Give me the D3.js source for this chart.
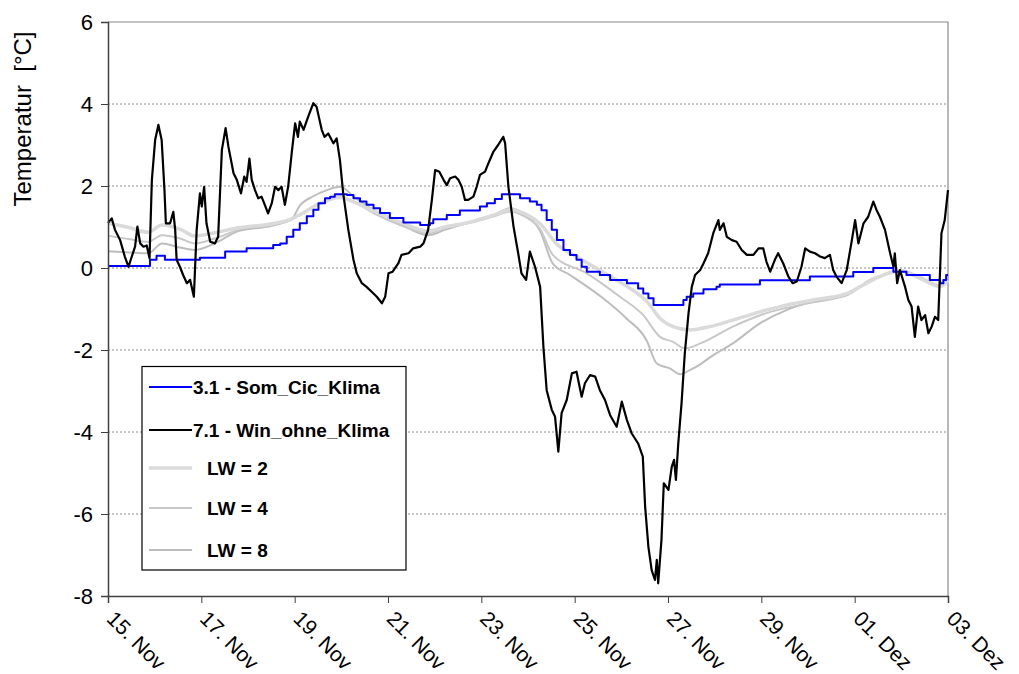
<!DOCTYPE html>
<html><head><meta charset="utf-8">
<script src="https://cdn.jsdelivr.net/npm/d3@7"></script>
<style>
html,body{margin:0;padding:0;background:#fff;}
text{font-family:"Liberation Sans",Arial,sans-serif;}
</style></head>
<body>
<svg id="chart" width="1019" height="674"></svg>
<script>
// ---- data (day offset from 15. Nov 00:00, temperature °C) ----
const tickDays = [0, 2, 4, 6, 8, 10, 12, 14, 16, 18];
const tickLabels = ["15. Nov","17. Nov","19. Nov","21. Nov","23. Nov","25. Nov","27. Nov","29. Nov","01. Dez","03. Dez"];
const yTicks = [-8, -6, -4, -2, 0, 2, 4, 6];
const seriesNames = ["3.1 - Som_Cic_Klima", "7.1 - Win_ohne_Klima", "LW = 2", "LW = 4", "LW = 8"];

const somCicKlima = [
[0,0.05],[0.90,0.2],[1.04,0.3],[1.22,0.2],[1.97,0.25],[2.51,0.4],[2.97,0.48],[3.54,0.56],[3.69,0.6],
[3.83,0.76],[3.97,0.93],[4.11,1.09],[4.26,1.26],[4.40,1.42],[4.51,1.58],[4.65,1.7],[4.76,1.74],[4.86,1.8],
[5.12,1.78],[5.26,1.7],[5.40,1.62],[5.54,1.54],[5.69,1.46],[5.83,1.34],[6.04,1.22],[6.33,1.11],[6.69,1.05],
[6.90,1.09],[6.97,1.19],[7.26,1.29],[7.54,1.4],[7.97,1.5],[8.12,1.58],[8.29,1.68],[8.44,1.8],[8.83,1.7],
[9.04,1.62],[9.19,1.54],[9.29,1.41],[9.40,1.17],[9.51,0.93],[9.62,0.68],[9.76,0.44],[9.90,0.32],[10.04,0.2],
[10.15,0.03],[10.26,-0.09],[10.54,-0.17],[10.76,-0.29],[11.12,-0.37],[11.36,-0.5],[11.47,-0.62],[11.58,-0.74],
[11.69,-0.9],[12.33,-0.78],[12.40,-0.7],[12.54,-0.62],[12.76,-0.52],[13.04,-0.46],[13.11,-0.4],[13.97,-0.3],
[15.04,-0.21],[15.97,-0.1],[16.40,0.0],[16.83,-0.09],[17.11,-0.17],[17.61,-0.29],[17.83,-0.37],[17.90,-0.29],
[17.96,-0.17],[18.0,-0.17]
];

const winOhneKlima = [
[0,1.1],[0.08,1.21],[0.15,0.93],[0.26,0.68],[0.36,0.28],[0.44,0.03],[0.51,0.28],[0.58,0.52],[0.63,1.01],
[0.69,0.6],[0.76,0.52],[0.83,0.55],[0.89,0.24],[0.94,2.15],[1.01,3.12],[1.08,3.49],[1.15,3.12],[1.21,1.9],
[1.24,1.09],[1.33,1.09],[1.40,1.37],[1.44,0.93],[1.47,0.2],[1.54,0.03],[1.61,-0.17],[1.69,-0.37],[1.76,-0.29],
[1.84,-0.7],[1.90,0.93],[1.97,1.82],[2.01,1.5],[2.06,1.98],[2.11,1.09],[2.19,0.64],[2.29,0.6],[2.36,0.76],
[2.44,2.88],[2.52,3.41],[2.58,2.96],[2.69,2.31],[2.76,2.15],[2.85,1.82],[2.92,2.23],[2.97,2.1],[3.03,2.67],
[3.08,2.15],[3.15,1.9],[3.22,1.7],[3.29,1.74],[3.36,1.54],[3.43,1.33],[3.51,1.58],[3.58,1.98],[3.65,1.9],
[3.72,1.98],[3.79,1.54],[3.86,1.98],[3.94,2.84],[4.01,3.53],[4.07,3.2],[4.11,3.57],[4.19,3.37],[4.29,3.69],
[4.40,4.02],[4.47,3.93],[4.58,3.37],[4.64,3.2],[4.72,3.28],[4.83,3.04],[4.90,3.16],[4.97,2.63],[5.04,1.82],
[5.15,0.93],[5.26,0.2],[5.33,-0.13],[5.44,-0.37],[5.54,-0.46],[5.65,-0.58],[5.76,-0.7],[5.87,-0.86],[5.94,-0.7],
[6.01,-0.13],[6.10,-0.09],[6.22,0.11],[6.29,0.32],[6.44,0.36],[6.54,0.48],[6.69,0.52],[6.76,0.6],[6.86,0.93],
[6.94,1.66],[7.01,2.39],[7.10,2.35],[7.19,2.15],[7.26,2.02],[7.33,2.19],[7.44,2.23],[7.51,2.15],[7.58,1.98],
[7.65,1.66],[7.72,1.66],[7.83,1.74],[7.90,1.98],[7.97,2.27],[8.08,2.35],[8.15,2.55],[8.26,2.84],[8.36,3.0],
[8.47,3.2],[8.51,3.04],[8.58,1.98],[8.69,1.01],[8.79,0.36],[8.86,-0.13],[8.96,-0.29],[9.04,0.4],[9.15,0.03],
[9.26,-0.46],[9.33,-1.92],[9.40,-2.98],[9.51,-3.46],[9.58,-3.63],[9.65,-4.48],[9.72,-3.54],[9.83,-3.22],
[9.94,-2.57],[10.04,-2.53],[10.15,-3.14],[10.22,-2.81],[10.33,-2.61],[10.44,-2.65],[10.54,-2.98],[10.65,-3.22],
[10.76,-3.59],[10.90,-3.87],[11.01,-3.26],[11.12,-3.71],[11.22,-4.03],[11.36,-4.28],[11.46,-4.6],[11.51,-5.82],
[11.58,-6.8],[11.65,-7.37],[11.72,-7.61],[11.76,-7.12],[11.79,-7.69],[11.86,-6.63],[11.91,-5.25],[12.01,-5.41],
[12.08,-4.85],[12.13,-4.68],[12.17,-5.17],[12.22,-4.28],[12.29,-3.3],[12.36,-2.08],[12.44,-1.1],[12.51,-0.46],
[12.58,-0.17],[12.69,-0.05],[12.76,0.11],[12.86,0.36],[12.97,0.85],[13.08,1.17],[13.11,0.93],[13.19,1.09],
[13.26,0.76],[13.37,0.68],[13.47,0.64],[13.58,0.44],[13.69,0.32],[13.83,0.32],[13.94,0.48],[14.04,0.48],
[14.11,0.15],[14.19,-0.09],[14.29,0.2],[14.36,0.36],[14.47,0.11],[14.58,-0.21],[14.67,-0.37],[14.76,-0.33],
[14.86,0.03],[14.94,0.48],[15.04,0.4],[15.15,0.36],[15.26,0.28],[15.36,0.24],[15.47,0.32],[15.54,-0.05],
[15.61,-0.21],[15.72,-0.37],[15.83,-0.05],[15.94,0.68],[16.01,1.17],[16.08,0.6],[16.19,1.09],[16.29,1.25],
[16.40,1.62],[16.47,1.41],[16.54,1.25],[16.65,0.93],[16.76,0.36],[16.83,0.03],[16.86,0.36],[16.91,-0.37],
[16.97,-0.05],[17.08,-0.46],[17.15,-0.78],[17.22,-0.94],[17.29,-1.68],[17.36,-0.94],[17.43,-1.27],[17.51,-1.15],
[17.58,-1.59],[17.65,-1.43],[17.72,-1.19],[17.79,-1.27],[17.86,0.85],[17.93,1.17],[18.0,1.9]
];

const lw2 = [
[0,1.09],[0.47,0.98],[0.86,0.87],[1.16,1.05],[1.54,0.95],[1.86,0.78],[2.29,0.86],[2.79,0.98],[3.51,1.08],
[3.94,1.2],[4.11,1.3],[4.50,1.55],[4.97,1.72],[5.29,1.6],[5.72,1.38],[6.26,1.12],[6.86,0.9],[7.22,1.0],
[7.76,1.12],[8.29,1.3],[8.61,1.42],[8.94,1.32],[9.26,1.08],[9.62,0.58],[10.01,0.3],[10.65,-0.13],[11.19,-0.5],
[11.55,-0.82],[11.83,-1.23],[12.11,-1.43],[12.47,-1.51],[12.90,-1.43],[13.39,-1.27],[13.97,-1.07],[14.55,-0.9],
[15.11,-0.78],[15.84,-0.62],[16.11,-0.46],[16.54,-0.21],[16.97,-0.07],[17.40,-0.25],[17.83,-0.45],[18.0,-0.3]
];

const lw4 = [
[0,0.79],[0.47,0.7],[0.86,0.64],[1.16,0.8],[1.54,0.72],[1.86,0.6],[2.29,0.72],[2.79,0.93],[3.51,1.05],
[3.94,1.18],[4.11,1.3],[4.50,1.55],[4.97,1.75],[5.29,1.6],[5.72,1.32],[6.26,1.05],[6.86,0.85],[7.22,0.97],
[7.76,1.1],[8.29,1.27],[8.61,1.38],[8.94,1.25],[9.26,0.95],[9.53,0.32],[10.26,-0.13],[10.97,-0.7],[11.47,-1.15],
[11.83,-1.68],[12.11,-1.8],[12.36,-1.96],[12.69,-1.84],[13.39,-1.43],[14.11,-1.1],[14.83,-0.9],[15.69,-0.7],
[15.97,-0.58],[16.26,-0.33],[16.76,-0.13],[16.97,-0.08],[17.40,-0.25],[17.83,-0.45],[18.0,-0.3]
];

const lw8 = [
[0,0.41],[0.47,0.38],[0.86,0.36],[1.16,0.6],[1.54,0.5],[1.86,0.44],[2.29,0.6],[2.79,0.9],[3.51,1.03],
[3.94,1.2],[4.11,1.52],[4.40,1.75],[4.69,1.9],[4.97,1.98],[5.29,1.72],[5.72,1.4],[6.26,1.08],[6.86,0.8],
[7.22,0.93],[7.76,1.12],[8.29,1.3],[8.61,1.46],[8.94,1.3],[9.26,0.9],[9.53,0.11],[9.90,-0.17],[10.61,-0.74],
[11.11,-1.23],[11.54,-1.76],[11.76,-2.33],[12.04,-2.45],[12.26,-2.59],[12.47,-2.49],[12.69,-2.35],[12.90,-2.18],
[13.39,-1.84],[13.97,-1.35],[14.55,-1.02],[15.11,-0.82],[15.84,-0.66],[16.11,-0.45],[16.54,-0.2],[16.97,-0.05],
[17.40,-0.22],[17.83,-0.42],[18.0,-0.25]
];

// ---- drawing ----
const svg = d3.select("#chart");
const L = 108, R = 948, T = 22, B = 596;
const x = d3.scaleLinear().domain([0, 18]).range([L, R]);
const y = d3.scaleLinear().domain([-8, 6]).range([B, T]);

// gridlines
svg.append("g").selectAll("line").data(yTicks.filter(v => v > -8 && v < 6)).join("line")
  .attr("x1", L).attr("x2", R).attr("y1", d => y(d)).attr("y2", d => y(d))
  .attr("stroke", "#8c8c8c").attr("stroke-width", 1).attr("stroke-dasharray", "2,2");

// plot border top/right
svg.append("path").attr("d", `M${L},${T}H${R}V${B}`).attr("fill", "none")
  .attr("stroke", "#8a8a8a").attr("stroke-width", 1.2);

const line = d3.line().x(d => x(d[0])).y(d => y(d[1]));
const smooth = d3.line().x(d => x(d[0])).y(d => y(d[1])).curve(d3.curveMonotoneX);
const step = d3.line().x(d => x(d[0])).y(d => y(d[1])).curve(d3.curveStepAfter);

const series = [
  {data: lw8, gen: smooth, color: "#bdbdbd", w: 2},
  {data: lw4, gen: smooth, color: "#c8c8c8", w: 2},
  {data: lw2, gen: smooth, color: "#dadada", w: 3.5},
  {data: somCicKlima, gen: step, color: "#0000ff", w: 2},
  {data: winOhneKlima, gen: line, color: "#000000", w: 2.2}
];
svg.append("g").selectAll("path").data(series).join("path")
  .attr("d", s => s.gen(s.data)).attr("fill", "none")
  .attr("stroke", s => s.color).attr("stroke-width", s => s.w)
  .attr("stroke-linejoin", "round");

// axes
const yAxis = d3.axisLeft(y).tickValues(yTicks).tickSize(7).tickPadding(8).tickFormat(d => d);
const gy = svg.append("g").attr("transform", `translate(${L},0)`).call(yAxis);
gy.select(".domain").attr("stroke", "#404040").attr("stroke-width", 1.5);
gy.selectAll(".tick line").attr("stroke", "#404040");
gy.selectAll("text").attr("font-size", 22).attr("fill", "#000")
  .style("font-family", '"Liberation Sans", Arial, sans-serif');

const xAxis = d3.axisBottom(x).tickValues(tickDays).tickSize(7).tickFormat((d, i) => tickLabels[i]);
const gx = svg.append("g").attr("transform", `translate(0,${B})`).call(xAxis);
gx.select(".domain").attr("stroke", "#404040").attr("stroke-width", 1.5);
gx.selectAll(".tick line").attr("stroke", "#404040");
gx.selectAll("text").attr("font-size", 21).attr("fill", "#000")
  .style("font-family", '"Liberation Sans", Arial, sans-serif')
  .attr("text-anchor", "start").attr("dy", 0).attr("y", 0)
  .attr("transform", "translate(-3,24) rotate(45)");

// y title
svg.append("text").attr("transform", "translate(31,119) rotate(-90)")
  .attr("text-anchor", "middle").attr("font-size", 24).attr("fill", "#000")
  .text("Temperatur\u00a0\u00a0[°C]");

// legend
const lg = svg.append("g");
lg.append("rect").attr("x", 142).attr("y", 366.5).attr("width", 264).attr("height", 203.5)
  .attr("fill", "#fff").attr("stroke", "#000").attr("stroke-width", 1.2);
const legendItems = [
  {name: seriesNames[0], color: "#0000ff", w: 2, y: 387, tx: 193},
  {name: seriesNames[1], color: "#000000", w: 2, y: 430, tx: 193},
  {name: seriesNames[2], color: "#dadada", w: 3.5, y: 468, tx: 207},
  {name: seriesNames[3], color: "#c8c8c8", w: 2, y: 508, tx: 207},
  {name: seriesNames[4], color: "#bdbdbd", w: 2, y: 550, tx: 207}
];
const li = lg.selectAll("g.it").data(legendItems).join("g").attr("class", "it");
li.append("line").attr("x1", 149).attr("x2", 192).attr("y1", d => d.y).attr("y2", d => d.y)
  .attr("stroke", d => d.color).attr("stroke-width", d => d.w);
li.append("text").attr("x", d => d.tx).attr("y", d => d.y).attr("dy", "0.35em")
  .attr("font-size", 19).attr("font-weight", "bold").attr("fill", "#000").text(d => d.name);
</script>
</body></html>
